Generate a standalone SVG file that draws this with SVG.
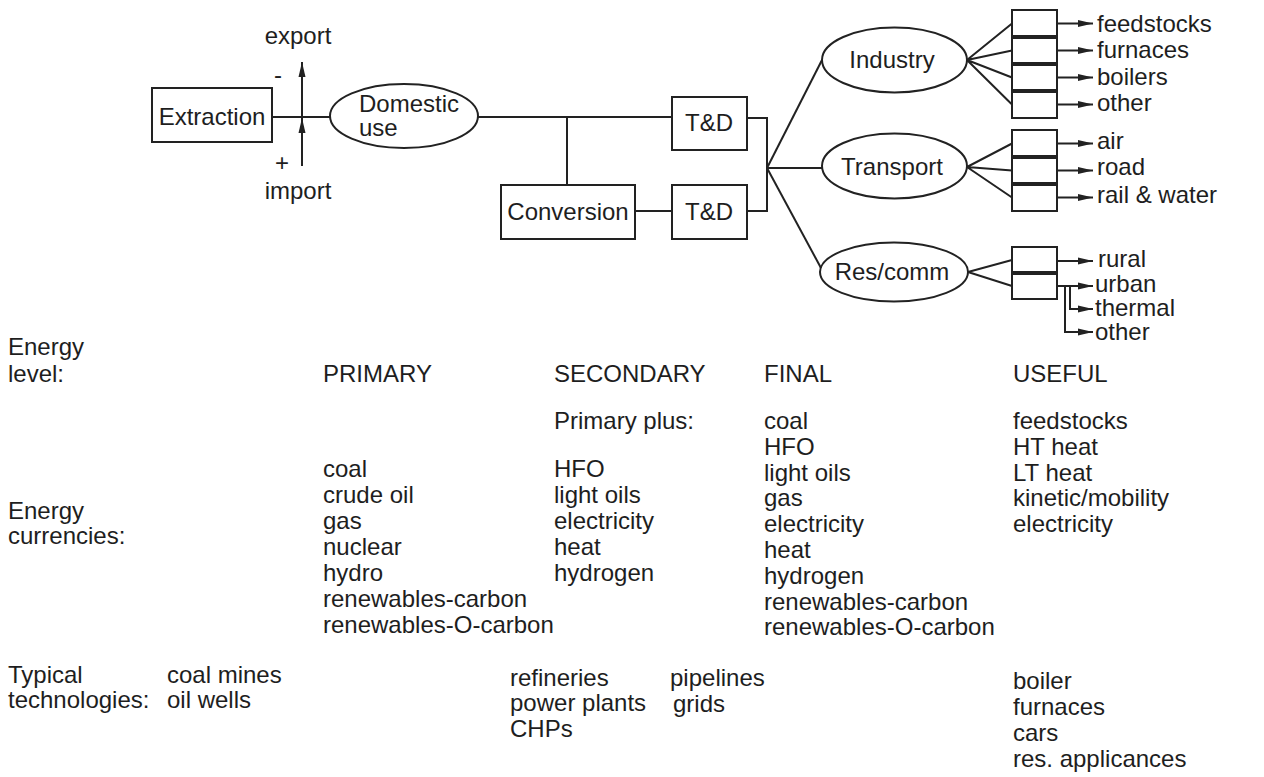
<svg xmlns="http://www.w3.org/2000/svg" width="1264" height="777" viewBox="0 0 1264 777">
<defs>
<marker id="ah" markerUnits="userSpaceOnUse" markerWidth="15" markerHeight="8" refX="15" refY="4" orient="auto">
<path d="M0,0.5 L15,4 L0,7.5 z" fill="#222"/>
</marker>
<style>
text{font-family:"Liberation Sans",Arial,sans-serif;font-size:24px;fill:#1e1e1e}
.m{text-anchor:middle}
.b{fill:none;stroke:#222;stroke-width:2}
.c{fill:none;stroke:#222;stroke-width:2}
.a{fill:none;stroke:#222;stroke-width:2;marker-end:url(#ah)}
.sep{stroke:#222;stroke-width:4}
</style>
</defs>
<rect width="1264" height="777" fill="#fff"/>

<g id="connectors">
<path class="c" d="M272,117 H331"/>
<path class="a" d="M302,166 V118"/>
<path class="a" d="M302,117 V62"/>
<path class="c" d="M478,117 H672"/>
<path class="c" d="M567,117 V185"/>
<path class="c" d="M635,211 H672"/>
<path class="c" d="M747,118 H767 V211 H747"/>
<path class="c" d="M767,168 L822,60"/>
<path class="c" d="M767,168 H822"/>
<path class="c" d="M767,168 L821,268"/>
<path class="c" d="M967,60 L1012,23.5 M967,60 L1012,50.5 M967,60 L1012,77.5 M967,60 L1012,104.5"/>
<path class="c" d="M967,167 L1012,143.5 M967,167 L1012,170.5 M967,167 L1012,197.5"/>
<path class="c" d="M968,272 L1012,260 M968,272 L1012,286"/>
<path class="a" d="M1057,23.5 H1093"/>
<path class="a" d="M1057,50.5 H1093"/>
<path class="a" d="M1057,77.5 H1093"/>
<path class="a" d="M1057,104.5 H1093"/>
<path class="a" d="M1057,143.5 H1093"/>
<path class="a" d="M1057,170.5 H1093"/>
<path class="a" d="M1057,197.5 H1093"/>
<path class="a" d="M1057,261 H1093"/>
<path class="a" d="M1057,286 H1093"/>
<path class="a" d="M1070,286 V309 H1093"/>
<path class="a" d="M1065,286 V332 H1093"/>
</g>

<g id="trade">
<text x="298" y="44" class="m">export</text>
<text x="278" y="83" class="m">-</text>
<text x="282" y="171" class="m">+</text>
<text x="298" y="199" class="m">import</text>
</g>

<g id="extraction">
<rect class="b" x="152" y="88" width="120" height="54"/>
<text x="212" y="125" class="m">Extraction</text>
</g>

<g id="domestic-use">
<ellipse class="b" cx="404" cy="116" rx="74" ry="32"/>
<text x="359" y="112">Domestic</text>
<text x="359" y="136">use</text>
</g>

<g id="conversion">
<rect class="b" x="501" y="185" width="134" height="54"/>
<text x="568" y="220" class="m">Conversion</text>
</g>

<g id="td-top">
<rect class="b" x="672" y="97" width="75" height="53"/>
<text x="709" y="131" class="m">T&amp;D</text>
</g>

<g id="td-bottom">
<rect class="b" x="672" y="185" width="75" height="54"/>
<text x="709" y="220" class="m">T&amp;D</text>
</g>

<g id="industry">
<ellipse class="b" cx="894.5" cy="60" rx="72.5" ry="32.5"/>
<text x="892" y="68" class="m">Industry</text>
</g>

<g id="transport">
<ellipse class="b" cx="894.5" cy="166" rx="72.5" ry="32.5"/>
<text x="892" y="175" class="m">Transport</text>
</g>

<g id="rescomm">
<ellipse class="b" cx="894" cy="272" rx="74" ry="29.5"/>
<text x="892" y="280" class="m">Res/comm</text>
</g>

<g id="industry-uses">
<rect class="b" x="1012" y="10" width="45" height="108"/>
<line class="sep" x1="1012" y1="37" x2="1057" y2="37"/>
<line class="sep" x1="1012" y1="64" x2="1057" y2="64"/>
<line class="sep" x1="1012" y1="91" x2="1057" y2="91"/>
<text x="1097" y="32">feedstocks</text>
<text x="1097" y="58">furnaces</text>
<text x="1097" y="85">boilers</text>
<text x="1097" y="111">other</text>
</g>

<g id="transport-uses">
<rect class="b" x="1012" y="130" width="45" height="81"/>
<line class="sep" x1="1012" y1="157" x2="1057" y2="157"/>
<line class="sep" x1="1012" y1="184" x2="1057" y2="184"/>
<text x="1097" y="149">air</text>
<text x="1097" y="175">road</text>
<text x="1097" y="203">rail &amp; water</text>
</g>

<g id="rescomm-uses">
<rect class="b" x="1012" y="247" width="45" height="52"/>
<line class="sep" x1="1012" y1="273" x2="1057" y2="273"/>
<text x="1098" y="267">rural</text>
<text x="1095" y="292">urban</text>
<text x="1095" y="316">thermal</text>
<text x="1095" y="340">other</text>
</g>

<g id="table">
<text x="8" y="355">Energy</text>
<text x="8" y="382">level:</text>
<text x="323" y="382">PRIMARY</text>
<text x="554" y="382">SECONDARY</text>
<text x="764" y="382">FINAL</text>
<text x="1013" y="382">USEFUL</text>

<text x="554" y="429">Primary plus:</text>

<text x="8" y="519">Energy</text>
<text x="8" y="544">currencies:</text>

<text x="323" y="477">coal</text>
<text x="323" y="503">crude oil</text>
<text x="323" y="529">gas</text>
<text x="323" y="555">nuclear</text>
<text x="323" y="581">hydro</text>
<text x="323" y="607">renewables-carbon</text>
<text x="323" y="633">renewables-O-carbon</text>

<text x="554" y="477">HFO</text>
<text x="554" y="503">light oils</text>
<text x="554" y="529">electricity</text>
<text x="554" y="555">heat</text>
<text x="554" y="581">hydrogen</text>

<text x="764" y="429">coal</text>
<text x="764" y="455">HFO</text>
<text x="764" y="481">light oils</text>
<text x="764" y="506">gas</text>
<text x="764" y="532">electricity</text>
<text x="764" y="558">heat</text>
<text x="764" y="584">hydrogen</text>
<text x="764" y="610">renewables-carbon</text>
<text x="764" y="635">renewables-O-carbon</text>

<text x="1013" y="429">feedstocks</text>
<text x="1013" y="455">HT heat</text>
<text x="1013" y="481">LT heat</text>
<text x="1013" y="506">kinetic/mobility</text>
<text x="1013" y="532">electricity</text>

<text x="8" y="683">Typical</text>
<text x="8" y="708">technologies:</text>
<text x="167" y="683">coal mines</text>
<text x="167" y="708">oil wells</text>
<text x="510" y="686">refineries</text>
<text x="510" y="711">power plants</text>
<text x="510" y="737">CHPs</text>
<text x="670" y="686">pipelines</text>
<text x="673" y="712">grids</text>
<text x="1013" y="689">boiler</text>
<text x="1013" y="715">furnaces</text>
<text x="1013" y="741">cars</text>
<text x="1013" y="767">res. applicances</text>
</g>
</svg>
